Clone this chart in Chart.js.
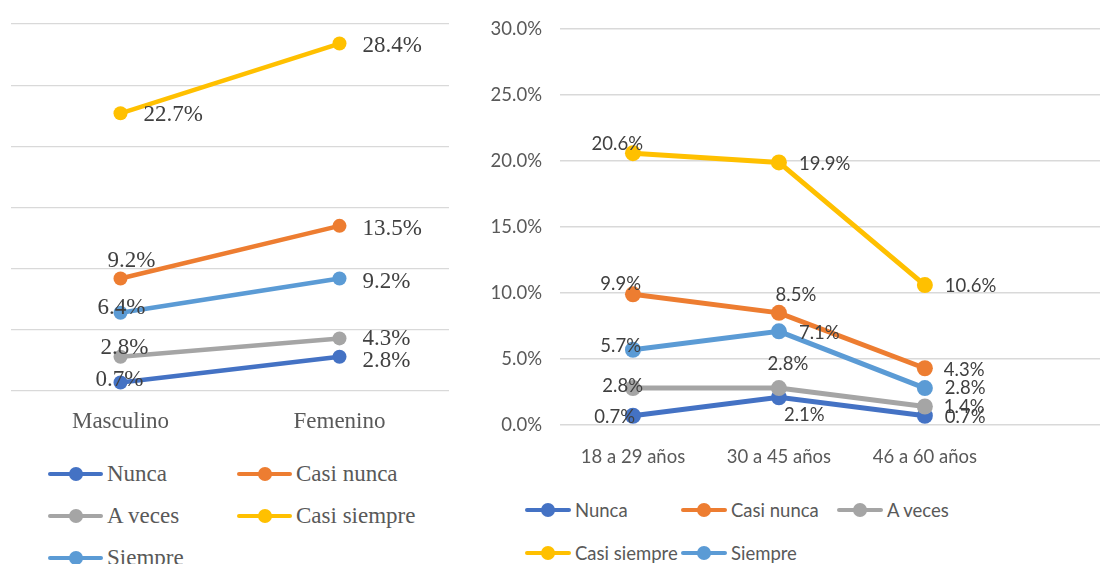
<!DOCTYPE html>
<html>
<head>
<meta charset="utf-8">
<script src="https://cdn.jsdelivr.net/npm/chart.js@4.4.1/dist/chart.umd.min.js"></script>
<style>
body{margin:0;background:#fff;width:1108px;height:564px;overflow:hidden;position:relative}
#left{position:absolute;left:0;top:0}
#right{position:absolute;left:480px;top:0}
.leg{position:absolute;white-space:nowrap;color:#595959}
.leg .ln{position:absolute;left:0;top:50%;height:4px;margin-top:-2px;border-radius:2px}
.leg .dt{position:absolute;top:50%;width:14px;height:14px;margin-top:-7px;border-radius:50%}
.serif{font-family:"Liberation Serif","Times New Roman",serif;font-size:23px}
.sans{font-family:Lato,Calibri,sans-serif;font-size:18.5px}
</style>
</head>
<body>
<canvas id="left" width="460" height="440"></canvas>
<canvas id="right" width="628" height="480"></canvas>
<div id="legLeft"></div>
<div id="legRight"></div>
<script>
// series shared by both charts
const seriesNames = ['Nunca', 'Casi nunca', 'A veces', 'Casi siempre', 'Siempre'];
const seriesColors = ['#4472C4', '#ED7D31', '#A5A5A5', '#FFC000', '#5B9BD5'];

// left chart: by sex (%)
const sexLabels = ['Masculino', 'Femenino'];
const nuncaSex = [0.7, 2.8];
const casiNuncaSex = [9.2, 13.5];
const aVecesSex = [2.8, 4.3];
const casiSiempreSex = [22.7, 28.4];
const siempreSex = [6.4, 9.2];

// right chart: by age group (%)
const ageLabels = ['18 a 29 años', '30 a 45 años', '46 a 60 años'];
const nuncaAge = [0.7, 2.1, 0.7];
const casiNuncaAge = [9.9, 8.5, 4.3];
const aVecesAge = [2.8, 2.8, 1.4];
const casiSiempreAge = [20.6, 19.9, 10.6];
const siempreAge = [5.7, 7.1, 2.8];

const serifFont = '"Liberation Serif", "Times New Roman", serif';
const sansFont = 'Lato, Calibri, sans-serif';

// where each data label sits relative to its point: [dx, dy, align]
const sexLabelPos = [
  [[-1, -2, 'center'], [23, 4, 'left']],
  [[11, -18, 'center'], [23, 3, 'left']],
  [[4, -9, 'center'], [23, 1, 'left']],
  [[23, 2, 'left'], [23, 2, 'left']],
  [[1, -5, 'center'], [23, 3, 'left']]
];
const ageLabelPos = [
  [[2, 1, 'right'], [5, 18, 'left'], [20, 1, 'left']],
  [[8, -10, 'right'], [17, -18, 'center'], [19, 2, 'left']],
  [[10, -2, 'right'], [9, -24, 'center'], [19, 1, 'left']],
  [[10, -9, 'right'], [20, 2, 'left'], [20, 1, 'left']],
  [[8, -4, 'right'], [20, 2, 'left'], [20, 0, 'left']]
];

function makeLabelPlugin(pos, font, color) {
  return {
    id: 'pctLabels',
    afterDatasetsDraw(chart) {
      const ctx = chart.ctx;
      ctx.save();
      ctx.font = font;
      ctx.fillStyle = color;
      ctx.textBaseline = 'middle';
      chart.data.datasets.forEach((ds, di) => {
        chart.getDatasetMeta(di).data.forEach((pt, i) => {
          const p = pos[di][i];
          const raw = ds.data[i];
          const v = typeof raw === 'object' ? raw.y : raw;
          ctx.textAlign = p[2];
          ctx.fillText(v.toFixed(1) + '%', pt.x + p[0], pt.y + p[1]);
        });
      });
      ctx.restore();
    }
  };
}

function makeDataset(i, data, lw, r) {
  return {
    label: seriesNames[i],
    data: data,
    borderColor: seriesColors[i],
    backgroundColor: seriesColors[i],
    borderWidth: lw,
    pointRadius: r,
    pointBorderWidth: 0,
    pointBackgroundColor: seriesColors[i],
    tension: 0,
    order: 5 - i
  };
}

// ---- left chart ----
const sexData = [nuncaSex, casiNuncaSex, aVecesSex, casiSiempreSex, siempreSex];
new Chart(document.getElementById('left'), {
  type: 'line',
  data: { labels: sexLabels, datasets: sexData.map((d, i) => makeDataset(i, d, 4.5, 7)) },
  options: {
    responsive: false,
    animation: false,
    layout: { padding: { left: 11, right: 11, top: 24, bottom: 0 } },
    plugins: { legend: { display: false }, tooltip: { enabled: false } },
    scales: {
      x: {
        offset: true,
        grid: { display: false },
        border: { display: false },
        afterFit: s => { s.height = 49; },
        ticks: { font: { family: serifFont, size: 23 }, color: '#595959', padding: 9, maxRotation: 0 }
      },
      y: {
        min: 0, max: 30,
        afterFit: s => { s.width = 0; },
        grid: { color: '#D9D9D9', lineWidth: 1.3, drawTicks: false },
        border: { display: false },
        ticks: { display: false, stepSize: 5 }
      }
    }
  },
  plugins: [makeLabelPlugin(sexLabelPos, '23px ' + serifFont, '#404040')]
});

// ---- right chart ----
const ageData = [nuncaAge, casiNuncaAge, aVecesAge, casiSiempreAge, siempreAge];
new Chart(document.getElementById('right'), {
  type: 'line',
  data: {
    datasets: ageData.map((d, i) => makeDataset(i, d.map((v, j) => ({ x: j, y: v })), 5, 8))
  },
  options: {
    responsive: false,
    animation: false,
    layout: { padding: { left: 0, right: 0, top: 24, bottom: 0 } },
    plugins: { legend: { display: false }, tooltip: { enabled: false } },
    scales: {
      x: {
        type: 'linear',
        min: -0.5, max: 3.2,
        grid: { display: false },
        border: { display: false },
        afterFit: s => { s.height = 55; },
        afterBuildTicks: s => { s.ticks = ageLabels.map((_, i) => ({ value: i })); },
        ticks: {
          autoSkip: false, maxRotation: 0, padding: 13,
          font: { family: sansFont, size: 18.5 }, color: '#595959',
          callback: v => ageLabels[v]
        }
      },
      y: {
        min: 0, max: 30,
        afterFit: s => { s.width = 80; },
        grid: { color: '#D9D9D9', lineWidth: 1.5, drawTicks: false },
        border: { display: false },
        ticks: {
          stepSize: 5, padding: 18,
          font: { family: sansFont, size: 18.5 }, color: '#595959',
          callback: v => v.toFixed(1) + '%'
        }
      }
    }
  },
  plugins: [makeLabelPlugin(ageLabelPos, '18.5px ' + sansFont, '#404040')]
});

// ---- legends (fixed columns like the original) ----
function buildLegend(el, cols, rows, lineW, fontClass) {
  seriesNames.forEach((name, k) => {
    const item = document.createElement('div');
    item.className = 'leg ' + fontClass;
    const h = 30;
    item.style.left = cols[k % cols.length] + 'px';
    item.style.top = (rows[Math.floor(k / cols.length)] - h / 2) + 'px';
    item.style.height = h + 'px';
    item.style.lineHeight = h + 'px';
    item.innerHTML =
      '<span class="ln" style="width:' + lineW + 'px;background:' + seriesColors[k] + '"></span>' +
      '<span class="dt" style="left:' + (lineW / 2 - 7) + 'px;background:' + seriesColors[k] + '"></span>' +
      '<span style="padding-left:' + (lineW + 4) + 'px">' + name + '</span>';
    el.appendChild(item);
  });
}
buildLegend(document.getElementById('legLeft'), [48, 237], [474, 516, 558], 55, 'serif');
buildLegend(document.getElementById('legRight'), [525, 681, 837], [510, 553], 46, 'sans');
</script>
</body>
</html>
